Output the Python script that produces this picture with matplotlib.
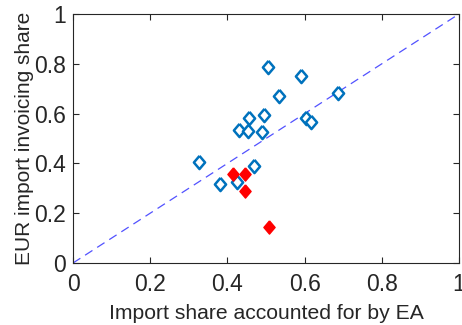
import matplotlib
matplotlib.use('Agg')
import matplotlib.pyplot as plt

plt.rcParams['font.family'] = ['Liberation Sans', 'DejaVu Sans']

# non-euro-area countries (open diamonds)
blue_x = [0.326, 0.381, 0.426, 0.431, 0.454, 0.456, 0.470, 0.489, 0.495, 0.505, 0.534, 0.590, 0.604, 0.617, 0.687]
blue_y = [0.406, 0.319, 0.324, 0.535, 0.530, 0.581, 0.390, 0.525, 0.594, 0.788, 0.671, 0.751, 0.584, 0.565, 0.681]

# highlighted countries (filled red diamonds)
red_x = [0.415, 0.446, 0.445, 0.508]
red_y = [0.359, 0.359, 0.289, 0.146]

ticks = [0, 0.2, 0.4, 0.6, 0.8, 1]
tick_labels = ['0', '0.2', '0.4', '0.6', '0.8', '1']

# slightly taller-than-wide diamond, like MATLAB's 'd'
diamond = [(0, 1), (0.85, 0), (0, -1), (-0.85, 0), (0, 1)]

fig = plt.figure(figsize=(4.62, 3.25), dpi=100)
ax = fig.add_axes([73 / 462, 1 - 263 / 325, 386 / 462, 249 / 325])

ax.plot([0, 1], [0, 1], '--', color='#5252ff', lw=0.9, dashes=(7, 4.5))
ax.plot(blue_x, blue_y, marker=diamond, mfc='white', mec='#0072BD', mew=1.8, ms=9.5, ls='none')
ax.plot(red_x, red_y, marker=diamond, mfc='red', mec='red', mew=1, ms=9.5, ls='none')

ax.set_xlim(0, 1)
ax.set_ylim(0, 1)
ax.set_xticks(ticks)
ax.set_xticklabels(tick_labels)
ax.set_yticks(ticks)
ax.set_yticklabels(tick_labels)
ax.tick_params(direction='in', top=True, right=True, labelsize=16.5, length=4,
               color='#262626', labelcolor='#262626')
ax.tick_params(axis='x', pad=7)
ax.tick_params(axis='y', pad=5)
for s in ax.spines.values():
    s.set_color('#262626')
    s.set_linewidth(0.8)

ax.set_xlabel('Import share accounted for by EA', fontsize=15.2, color='#262626', labelpad=6)
ax.set_ylabel('EUR import invoicing share', fontsize=15, color='#262626', labelpad=0)

fig.savefig('out.png', dpi=100)
